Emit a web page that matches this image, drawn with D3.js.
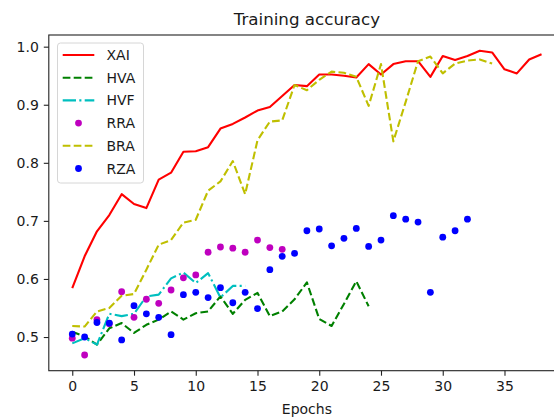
<!DOCTYPE html>
<html>
<head>
    <title>Training accuracy</title>
    <script src="https://d3js.org/d3.v7.min.js"></script>
    <style>
        * {
            margin: 0;
            padding: 0;
        }
        body {
            background: #fff;
        }
        svg text {
            font-family: "DejaVu Sans", sans-serif;
            fill: #1a1a1a;
        }
    </style>
</head>
<body>
<div id="chart"></div>

<script>
    // accuracy per epoch
    const xai = [0.584,0.639,0.682,0.710,0.746,0.729,0.722,0.771,0.783,0.819,0.820,0.827,0.859,0.867,0.878,0.890,0.896,0.915,0.934,0.932,0.952,0.952,0.950,0.947,0.970,0.952,0.970,0.975,0.975,0.948,0.984,0.977,0.984,0.993,0.990,0.961,0.954,0.978,0.987];
    const hva = [0.509,0.501,0.487,0.515,0.524,0.507,0.521,0.530,0.544,0.530,0.541,0.544,0.570,0.540,0.564,0.576,0.536,0.544,0.565,0.594,0.531,0.519,0.557,0.596,0.553];
    const hvf = [0.489,0.498,0.487,0.540,0.536,0.540,0.570,0.573,0.601,0.611,0.593,0.610,0.568,0.588,0.588];
    const rra = [0.498,0.469,0.530,0.523,0.578,0.534,0.565,0.558,0.581,0.602,0.607,0.646,0.655,0.653,0.646,0.667,0.654,0.651];
    const bra = [0.519,0.518,0.544,0.550,0.571,0.574,0.616,0.659,0.667,0.697,0.702,0.752,0.768,0.803,0.746,0.839,0.871,0.873,0.934,0.925,0.943,0.957,0.955,0.948,0.898,0.970,0.837,0.905,0.975,0.983,0.954,0.971,0.976,0.978,0.971];
    const rza = [0.505,0.500,0.525,0.524,0.495,0.554,0.540,0.534,0.504,0.573,0.577,0.568,0.585,0.559,0.577,0.549,0.616,0.639,0.644,0.683,0.686,0.657,0.670,0.687,0.656,0.667,0.709,0.703,0.698,0.577,0.672,0.683,0.703];

    const xTicks = [0, 5, 10, 15, 20, 25, 30, 35];
    const yTicks = [0.5, 0.6, 0.7, 0.8, 0.9, 1.0];

    const series = [
        {name: "XAI", values: xai, color: "#ff0000", kind: "line", dash: null},
        {name: "HVA", values: hva, color: "#008000", kind: "line", dash: "7.7,3.3"},
        {name: "HVF", values: hvf, color: "#00bfbf", kind: "line", dash: "13.3,3.3,2.1,3.3"},
        {name: "RRA", values: rra, color: "#bf00bf", kind: "dot"},
        {name: "BRA", values: bra, color: "#bfbf00", kind: "line", dash: "7.7,3.3"},
        {name: "RZA", values: rza, color: "#0000ff", kind: "dot"}
    ];

    const width = 554, height = 418;
    const plot = {left: 48.8, right: 565, top: 35, bottom: 370.7};

    const x = d3.scaleLinear().domain([-1.9, 39.9]).range([plot.left, plot.right]);
    const y = d3.scaleLinear().domain([0.4420, 1.0201]).range([plot.bottom, plot.top]);

    const svg = d3.select("#chart").append("svg")
        .attr("width", width)
        .attr("height", height);

    const line = d3.line()
        .x((d, i) => x(i))
        .y(d => y(d));

    // lines first, then dots, same order as the plot calls
    series.forEach(s => {
        if (s.kind === "line") {
            svg.append("path")
                .datum(s.values)
                .attr("d", line)
                .attr("fill", "none")
                .attr("stroke", s.color)
                .attr("stroke-width", 2.1)
                .attr("stroke-linejoin", "round")
                .attr("stroke-dasharray", s.dash);
        } else {
            svg.append("g")
                .selectAll("circle")
                .data(s.values)
                .join("circle")
                .attr("cx", (d, i) => x(i))
                .attr("cy", d => y(d))
                .attr("r", 3.4)
                .attr("fill", s.color);
        }
    });

    // frame
    svg.append("rect")
        .attr("x", plot.left)
        .attr("y", plot.top)
        .attr("width", plot.right - plot.left)
        .attr("height", plot.bottom - plot.top)
        .attr("fill", "none")
        .attr("stroke", "#222")
        .attr("stroke-width", 1.1);

    const xAxis = svg.append("g")
        .attr("transform", `translate(0,${plot.bottom})`)
        .call(d3.axisBottom(x).tickValues(xTicks).tickSize(5).tickPadding(5).tickFormat(d3.format("d")));
    const yAxis = svg.append("g")
        .attr("transform", `translate(${plot.left},0)`)
        .call(d3.axisLeft(y).tickValues(yTicks).tickSize(5).tickPadding(5).tickFormat(d3.format(".1f")));

    [xAxis, yAxis].forEach(a => {
        a.select(".domain").remove();
        a.selectAll("line").attr("stroke", "#222").attr("stroke-width", 1.1);
        a.selectAll("text").style("font-size", "14px").attr("fill", "#1a1a1a");
    });

    svg.append("text")
        .attr("x", (plot.left + plot.right) / 2)
        .attr("y", 25)
        .attr("text-anchor", "middle")
        .style("font-size", "16.7px")
        .text("Training accuracy");

    svg.append("text")
        .attr("x", (plot.left + plot.right) / 2)
        .attr("y", 414)
        .attr("text-anchor", "middle")
        .style("font-size", "14px")
        .text("Epochs");

    // legend
    const lg = svg.append("g");
    lg.append("rect")
        .attr("x", 57.5)
        .attr("y", 43)
        .attr("width", 86)
        .attr("height", 140)
        .attr("rx", 3)
        .attr("fill", "#fff")
        .attr("fill-opacity", 0.8)
        .attr("stroke", "#d6d6d6")
        .attr("stroke-width", 1);

    const rowY = i => 55 + i * 22.7;
    series.forEach((s, i) => {
        if (s.kind === "line") {
            lg.append("line")
                .attr("x1", 62.7).attr("x2", 94.3)
                .attr("y1", rowY(i)).attr("y2", rowY(i))
                .attr("stroke", s.color)
                .attr("stroke-width", 2.1)
                .attr("stroke-dasharray", s.dash);
        } else {
            lg.append("circle")
                .attr("cx", 78.5)
                .attr("cy", rowY(i))
                .attr("r", 3.4)
                .attr("fill", s.color);
        }
        lg.append("text")
            .attr("x", 106.5)
            .attr("y", rowY(i) + 5)
            .style("font-size", "14px")
            .text(s.name);
    });
</script>
</body>
</html>
